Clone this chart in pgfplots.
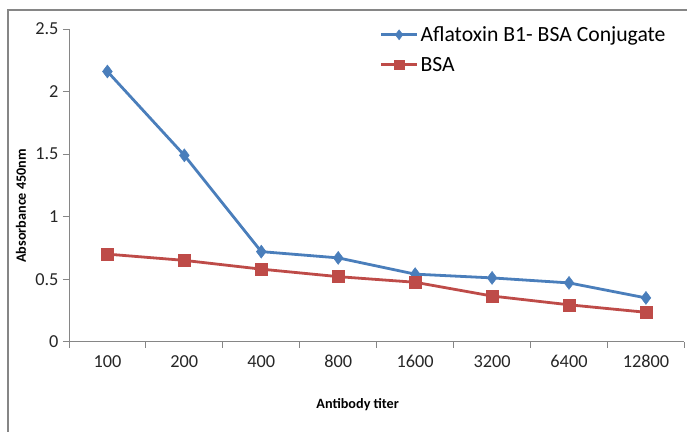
\documentclass[border=0pt]{standalone}
\usepackage{pgfplots}
\pgfplotsset{compat=1.18}
\usepackage{fontspec}
\setmainfont{Carlito}
\definecolor{eblue}{HTML}{4A7EBB}
\definecolor{ered}{HTML}{BE4B48}
\definecolor{axgray}{HTML}{868686}
\begin{document}
\begin{tikzpicture}[x=1bp,y=1bp]
\path (0,0) rectangle (688,432);
\draw[axgray, line width=1.2bp] (8,0) -- (8,422) -- (688,422);
\begin{axis}[
  at={(69bp,90bp)}, anchor=south west,
  scale only axis, width=616bp, height=313bp,
  xmin=-0.5, xmax=7.5, ymin=0, ymax=2.5,
  axis x line*=bottom, axis y line*=left,
  axis line style={axgray, line width=0.8bp, -},
  xtick={0,...,7},
  xticklabels={100,200,400,800,1600,3200,6400,12800},
  major x tick style={draw=none},
  minor xtick={-0.5,0.5,1.5,2.5,3.5,4.5,5.5,6.5,7.5},
  minor tick length=6bp,
  minor x tick style={axgray, line width=0.8bp},
  ytick={0,0.5,1,1.5,2,2.5},
  yticklabels={0,0.5,1,1.5,2,2.5},
  major tick length=6bp,
  major y tick style={axgray, line width=0.8bp},
  tick align=outside,
  tick label style={font=\fontsize{18.3bp}{21bp}\selectfont, text=black!85},
  xticklabel style={yshift=-4bp},
  yticklabel style={xshift=-1bp},
  /pgf/number format/assume math mode=true,
  legend style={draw=none, fill=none, at={(0.505,1.014)}, anchor=north west,
    font=\fontsize{21.7bp}{24bp}\selectfont, row sep=10bp,
    inner sep=0pt, outer sep=0pt,
    legend cell align=left},
  legend image code/.code={
    \draw[#1, mark repeat=2, mark phase=2, mark size=5bp] plot coordinates {(0bp,0bp) (18bp,0bp) (36bp,0bp)};},
]
\addplot[eblue, line width=2.8bp, mark=diamond*, mark size=6.5bp, mark options={fill=eblue, line width=0.5bp}]
  coordinates {(0,2.16) (1,1.49) (2,0.72) (3,0.67) (4,0.54) (5,0.51) (6,0.47) (7,0.35)};
\addlegendentry{Aflatoxin B1- BSA Conjugate}
\addplot[ered, line width=2.8bp, mark=square*, mark size=6bp, mark options={fill=ered, line width=0.5bp}]
  coordinates {(0,0.70) (1,0.65) (2,0.58) (3,0.52) (4,0.475) (5,0.365) (6,0.295) (7,0.235)};
\addlegendentry{BSA}
\end{axis}
\node[font=\bfseries\fontsize{14.2bp}{17bp}\selectfont] at (358,27) {Antibody titer};
\node[font=\bfseries\fontsize{14.2bp}{17bp}\selectfont, rotate=90] at (21,226) {Absorbance 450nm};
\end{tikzpicture}
\end{document}
